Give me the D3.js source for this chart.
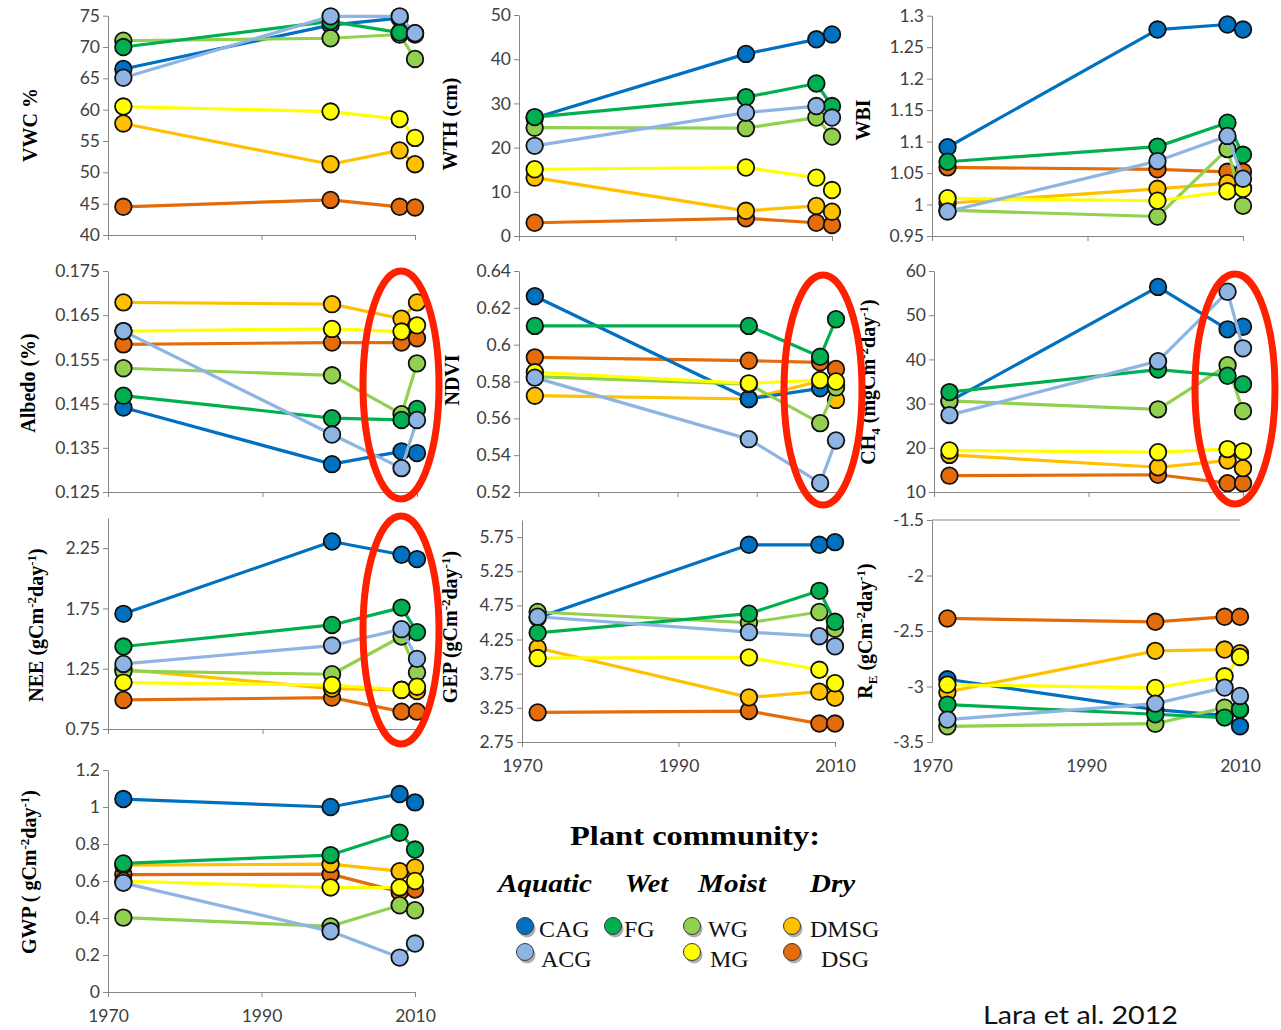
<!DOCTYPE html>
<html lang="en">
<head>
<meta charset="UTF-8">
<title>Plant community trends 1972-2010</title>
<script src="https://cdnjs.cloudflare.com/ajax/libs/d3/7.8.5/d3.min.js"></script>
<style>
  body { margin: 0; background: #fff; }
  svg { display: block; }
  .tick text { font-family: Lato, sans-serif; font-size: 17.5px; fill: #404040; }
  .ytitle { font-family: "Liberation Serif", "Times New Roman", serif; font-weight: bold; font-size: 20px; fill: #000; }
  .serif { font-family: "Liberation Serif", "Times New Roman", serif; }
</style>
</head>
<body>
<svg id="chart" width="1281" height="1030"></svg>
<script>
// sampling years and plant communities
const years = [1972, 1999, 2008, 2010];
const groups = ["CAG", "ACG", "FG", "WG", "MG", "DMSG", "DSG"];
const colors = {
    CAG: "#0070c0", ACG: "#8eb4e3", FG: "#00b050", WG: "#92d050",
    MG: "#ffff00", DMSG: "#ffc000", DSG: "#e46c0a"
};
// order series are painted in (later ones end up on top)
const drawOrder = ["DSG", "DMSG", "CAG", "WG", "FG", "MG", "ACG"];

const vwc = {
    CAG: [66.5, 73.5, 74.6, 72.2], ACG: [65.1, 74.9, 74.9, 72.2],
    FG: [70.0, 74.1, 72.3, 72.0], WG: [71.0, 71.4, 72.0, 68.1],
    MG: [60.5, 59.7, 58.5, 55.5], DMSG: [57.8, 51.3, 53.5, 51.3],
    DSG: [44.5, 45.6, 44.5, 44.4]
};
const wth = {
    CAG: [26.7, 41.2, 44.5, 45.6], ACG: [20.4, 27.9, 29.4, 26.8],
    FG: [26.9, 31.4, 34.5, 29.4], WG: [24.5, 24.4, 26.8, 22.5],
    MG: [15.1, 15.5, 13.2, 10.4], DMSG: [13.2, 5.7, 6.8, 5.5],
    DSG: [3.0, 4.0, 3.0, 2.5]
};
const wbi = {
    CAG: [1.091, 1.278, 1.286, 1.278], ACG: [0.989, 1.069, 1.109, 1.041],
    FG: [1.068, 1.092, 1.130, 1.079], WG: [0.991, 0.981, 1.088, 0.998],
    MG: [1.010, 1.006, 1.021, 1.025], DMSG: [1.002, 1.025, 1.034, 1.026],
    DSG: [1.059, 1.056, 1.052, 1.052]
};
const albedo = {
    CAG: [0.1441, 0.1313, 0.1342, 0.1338], ACG: [0.1614, 0.1380, 0.1304, 0.1413],
    FG: [0.1468, 0.1417, 0.1413, 0.1438], WG: [0.1530, 0.1514, 0.1426, 0.1541],
    MG: [0.1614, 0.1619, 0.1613, 0.1627], DMSG: [0.1679, 0.1675, 0.1642, 0.1679],
    DSG: [0.1584, 0.1588, 0.1588, 0.1598]
};
const ndvi = {
    CAG: [0.6263, 0.5705, 0.5763, 0.578], ACG: [0.5821, 0.5487, 0.5249, 0.548],
    FG: [0.6102, 0.6102, 0.5934, 0.6138], WG: [0.5826, 0.5786, 0.5574, 0.5768],
    MG: [0.5850, 0.5790, 0.5808, 0.580], DMSG: [0.5723, 0.5705, 0.5803, 0.570],
    DSG: [0.5931, 0.5913, 0.5904, 0.5868]
};
const ch4 = {
    CAG: [30.5, 56.4, 46.8, 47.4], ACG: [27.4, 39.6, 55.3, 42.5],
    FG: [32.6, 37.7, 36.3, 34.4], WG: [30.6, 28.7, 38.7, 28.3],
    MG: [19.4, 19.0, 19.7, 19.2], DMSG: [18.4, 15.6, 17.1, 15.4],
    DSG: [13.7, 13.9, 12.0, 12.0]
};
const nee = {
    CAG: [1.705, 2.305, 2.195, 2.159], ACG: [1.290, 1.442, 1.578, 1.332],
    FG: [1.434, 1.613, 1.757, 1.553], WG: [1.231, 1.204, 1.517, 1.218],
    MG: [1.135, 1.115, 1.074, 1.101], DMSG: [1.245, 1.085, 1.075, 1.065],
    DSG: [0.991, 1.010, 0.894, 0.894]
};
const gep = {
    CAG: [4.57, 5.637, 5.637, 5.676], ACG: [4.584, 4.358, 4.299, 4.151],
    FG: [4.348, 4.629, 4.963, 4.51], WG: [4.653, 4.496, 4.653, 4.407],
    MG: [3.979, 3.989, 3.807, 3.61], DMSG: [4.127, 3.404, 3.487, 3.398],
    DSG: [3.183, 3.203, 3.02, 3.02]
};
const re = {
    CAG: [-2.935, -3.208, -3.26, -3.359], ACG: [-3.298, -3.154, -3.01, -3.085],
    FG: [-3.163, -3.25, -3.28, -3.208], WG: [-3.359, -3.335, -3.19, -3.21],
    MG: [-2.983, -3.013, -2.908, -2.734], DMSG: [-3.049, -2.679, -2.667, -2.70],
    DSG: [-2.387, -2.417, -2.372, -2.372]
};
const gwp = {
    CAG: [1.043, 1.0, 1.07, 1.025], ACG: [0.590, 0.328, 0.186, 0.262],
    FG: [0.695, 0.74, 0.861, 0.77], WG: [0.402, 0.355, 0.469, 0.442],
    MG: [0.60, 0.565, 0.565, 0.60], DMSG: [0.686, 0.691, 0.653, 0.673],
    DSG: [0.635, 0.637, 0.541, 0.554]
};

// tick labels
const vwcTicks = [40, 45, 50, 55, 60, 65, 70, 75];
const wthTicks = [0, 10, 20, 30, 40, 50];
const wbiTicks = [0.95, 1, 1.05, 1.1, 1.15, 1.2, 1.25, 1.3];
const albedoTicks = [0.125, 0.135, 0.145, 0.155, 0.165, 0.175];
const ndviTicks = [0.52, 0.54, 0.56, 0.58, 0.6, 0.62, 0.64];
const ch4Ticks = [10, 20, 30, 40, 50, 60];
const neeTicks = [0.75, 1.25, 1.75, 2.25];
const gepTicks = [2.75, 3.25, 3.75, 4.25, 4.75, 5.25, 5.75];
const reTicks = [-3.5, -3, -2.5, -2, -1.5];
const gwpTicks = [0, 0.2, 0.4, 0.6, 0.8, 1, 1.2];
const yearTicks = [1970, 1990, 2010];
const decadeTicks = [1970, 1980, 1990, 2000, 2010];

// legend
const legendHeads = ["Aquatic", "Wet", "Moist", "Dry"];
const legendItems = ["CAG", "FG", "WG", "DMSG", "ACG", "MG", "DSG"];

// title pieces: [text, 0 normal / 1 superscript / -1 subscript]
const unitParts = [["(gCm", 0], ["-2", 1], ["day", 0], ["-1", 1], [")", 0]];

// panel layout
const panels = [
    { data: vwc, domain: [40, 75], ticks: vwcTicks, x0: 108, x1: 415, y0: 15.7, y1: 235,
      title: [["VWC %", 0]], tx: 30, ty: 125 },
    { data: wth, domain: [0, 50], ticks: wthTicks, x0: 519, x1: 832, y0: 15, y1: 236,
      title: [["WTH (cm)", 0]], tx: 450, ty: 124 },
    { data: wbi, domain: [0.95, 1.3], ticks: wbiTicks, x0: 932, x1: 1243, y0: 15.7, y1: 236,
      title: [["WBI", 0]], tx: 863, ty: 120 },
    { data: albedo, domain: [0.125, 0.175], ticks: albedoTicks, x0: 108, x1: 417, y0: 271, y1: 492,
      title: [["Albedo (%)", 0]], tx: 28, ty: 383 },
    { data: ndvi, domain: [0.52, 0.64], ticks: ndviTicks, x0: 519, x1: 836, y0: 271, y1: 492,
      title: [["NDVI", 0]], tx: 452, ty: 380, xticks: decadeTicks },
    { data: ch4, domain: [10, 60], ticks: ch4Ticks, x0: 934, x1: 1243, y0: 271, y1: 492,
      title: [["CH", 0], ["4", -1], [" (mgCm", 0], ["-2", 1], ["day", 0], ["-1", 1], [")", 0]], tx: 868, ty: 382 },
    { data: nee, domain: [0.75, 2.5], ticks: neeTicks, x0: 108, x1: 417, y0: 518, y1: 729,
      title: [["NEE ", 0]].concat(unitParts), tx: 36, ty: 625 },
    { data: gep, domain: [2.75, 6], ticks: gepTicks, x0: 522, x1: 835, y0: 520, y1: 742,
      title: [["GEP ", 0]].concat(unitParts), tx: 450, ty: 627, labels: true },
    { data: re, domain: [-3.5, -1.5], ticks: reTicks, x0: 932, x1: 1240, y0: 520, y1: 742,
      title: [["R", 0], ["E", -1], [" ", 0]].concat(unitParts), tx: 865, ty: 631, labels: true, topAxis: true },
    { data: gwp, domain: [0, 1.2], ticks: gwpTicks, x0: 108, x1: 415, y0: 770, y1: 992,
      title: [["GWP ( gCm", 0], ["-2", 1], ["day", 0], ["-1", 1], [")", 0]], tx: 29, ty: 872, labels: true }
];

const svg = d3.select("#chart");
const fmt = d => String(+d.toFixed(4));
const axisColor = "#868686";

function addTitle(g, p) {
    const t = g.append("text")
        .attr("class", "ytitle")
        .attr("text-anchor", "middle")
        .attr("transform", `translate(${p.tx},${p.ty}) rotate(-90)`)
        .attr("dy", "0.35em");
    let shift = 0;
    p.title.forEach(([txt, s]) => {
        const span = t.append("tspan").text(txt);
        const want = s === 1 ? -7 : (s === -1 ? 5 : 0);
        if (want !== shift) span.attr("dy", want - shift);
        if (s !== 0) span.style("font-size", "13px");
        shift = want;
    });
}

panels.forEach(p => {
    const g = svg.append("g");
    const x = d3.scaleLinear().domain([1970, 2010]).range([p.x0, p.x1]);
    const y = d3.scaleLinear().domain(p.domain).range([p.y1, p.y0]);

    // y axis
    const ya = g.append("g")
        .attr("transform", `translate(${p.x0},0)`)
        .call(d3.axisLeft(y).tickValues(p.ticks).tickFormat(fmt).tickSize(5).tickSizeOuter(0));
    ya.select(".domain").attr("stroke", axisColor);
    ya.selectAll(".tick line").attr("stroke", axisColor);

    // x axis
    const xa = g.append("g")
        .attr("transform", `translate(0,${p.y1})`)
        .call(d3.axisBottom(x).tickValues(p.xticks || yearTicks)
            .tickFormat(p.labels ? d3.format("d") : "").tickSize(5).tickSizeOuter(0));
    xa.select(".domain").attr("stroke", axisColor);
    xa.selectAll(".tick line").attr("stroke", axisColor);
    xa.selectAll(".tick text").attr("y", 18);
    if (p.topAxis) {
        xa.select(".domain").remove();
        xa.selectAll(".tick line").remove();
        g.append("line")
            .attr("x1", p.x0).attr("x2", p.x1)
            .attr("y1", y(p.domain[1])).attr("y2", y(p.domain[1]))
            .attr("stroke", axisColor);
    }

    addTitle(g, p);

    const line = d3.line().x((d, i) => x(years[i])).y(d => y(d));
    drawOrder.forEach(k => {
        const vals = p.data[k];
        const s = g.append("g");
        s.append("path")
            .attr("d", line(vals))
            .attr("fill", "none")
            .attr("stroke", colors[k])
            .attr("stroke-width", 3.2)
            .attr("stroke-linejoin", "round");
        s.selectAll("circle")
            .data(vals)
            .join("circle")
            .attr("cx", (d, i) => x(years[i]))
            .attr("cy", d => y(d))
            .attr("r", 8.3)
            .attr("fill", colors[k])
            .attr("stroke", "#111")
            .attr("stroke-width", 1.8);
    });
});

// red highlight ellipses
const ellipses = [
    { cx: 401, cy: 385, rx: 38, ry: 114 },
    { cx: 823, cy: 390, rx: 39, ry: 115 },
    { cx: 1235, cy: 389, rx: 40, ry: 115 },
    { cx: 401, cy: 630, rx: 38, ry: 114 }
];
svg.append("g").selectAll("ellipse")
    .data(ellipses)
    .join("ellipse")
    .attr("cx", d => d.cx).attr("cy", d => d.cy)
    .attr("rx", d => d.rx).attr("ry", d => d.ry)
    .attr("fill", "none")
    .attr("stroke", "#ff2000")
    .attr("stroke-width", 7);

// legend
const leg = svg.append("g").attr("class", "serif");
leg.append("text")
    .attr("x", 570).attr("y", 845)
    .attr("font-size", 27).attr("font-weight", "bold")
    .attr("textLength", 250).attr("lengthAdjust", "spacingAndGlyphs")
    .text("Plant community:");

const headPos = [[498, 94], [625, 43], [698, 68], [810, 45]];
leg.selectAll("text.head")
    .data(legendHeads)
    .join("text")
    .attr("class", "head")
    .attr("x", (d, i) => headPos[i][0]).attr("y", 892)
    .attr("font-size", 26).attr("font-weight", "bold").attr("font-style", "italic")
    .attr("textLength", (d, i) => headPos[i][1]).attr("lengthAdjust", "spacingAndGlyphs")
    .text(d => d);

const itemPos = {
    CAG: [525, 926, 539, 937], FG: [613, 926, 624, 937], WG: [692, 926, 708, 937],
    DMSG: [792, 926, 810, 937], ACG: [525, 952, 541, 967], MG: [692, 952, 710, 967],
    DSG: [792, 952, 821, 967]
};
const items = leg.selectAll("g.item")
    .data(legendItems)
    .join("g")
    .attr("class", "item");
items.append("circle")
    .attr("cx", d => itemPos[d][0] + 2).attr("cy", d => itemPos[d][1] + 3)
    .attr("r", 8.5).attr("fill", "#8c8c8c").attr("opacity", 0.7);
items.append("circle")
    .attr("cx", d => itemPos[d][0]).attr("cy", d => itemPos[d][1])
    .attr("r", 8.5).attr("fill", d => colors[d])
    .attr("stroke", "#3a3a3a").attr("stroke-width", 1);
items.append("text")
    .attr("x", d => itemPos[d][2]).attr("y", d => itemPos[d][3])
    .attr("font-size", 24).attr("fill", "#111")
    .text(d => d);

// source note
svg.append("text")
    .attr("x", 983).attr("y", 1024)
    .attr("font-family", "Lato, sans-serif").attr("font-size", 25)
    .attr("textLength", 195).attr("lengthAdjust", "spacingAndGlyphs")
    .attr("fill", "#111")
    .text("Lara et al. 2012");
</script>
</body>
</html>
